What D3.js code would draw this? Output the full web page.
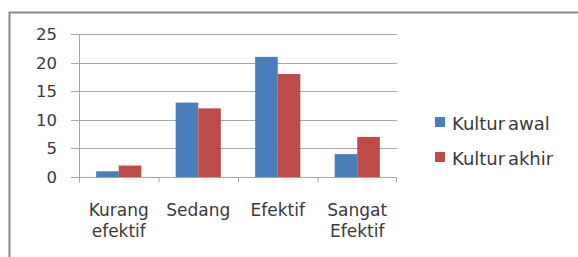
<!DOCTYPE html>
<html>
<head>
<meta charset="utf-8">
<script src="https://cdn.jsdelivr.net/npm/d3@7"></script>
<style>
  body { margin: 0; background: #fff; }
  svg text { font-family: "DejaVu Sans", sans-serif; fill: #3a3a3a; }
</style>
</head>
<body>
<div id="chart"></div>
<script>
var categories = [["Kurang", "efektif"], ["Sedang"], ["Efektif"], ["Sangat", "Efektif"]];
var seriesNames = ["Kultur awal", "Kultur akhir"];
var kulturAwal = [1, 13, 21, 4];
var kulturAkhir = [2, 12, 18, 7];
var yTicks = [0, 5, 10, 15, 20, 25];

(function () {
	'use strict';

	var colors = ["#4a7ebb", "#be4b48"];
	var width = 578, height = 257;
	var plot = { left: 79, right: 397, top: 34, bottom: 177 };

	var svg = d3.select("#chart").append("svg")
		.attr("width", width)
		.attr("height", height);

	// frame of the chart area
	svg.append("path")
		.attr("d", "M9.5," + height + "V12.5H" + width)
		.attr("fill", "none")
		.attr("stroke", "#8c8c8c")
		.attr("stroke-width", 2);

	var keys = categories.map(function (c) { return c.join(" "); });
	var data = keys.map(function (k, i) {
		return { cat: k, values: [kulturAwal[i], kulturAkhir[i]] };
	});

	var x0 = d3.scaleBand()
		.domain(keys)
		.range([plot.left, plot.right]);

	var x1 = d3.scaleBand()
		.domain([0, 1])
		.range([0, x0.bandwidth()])
		.paddingOuter(0.76);

	var y = d3.scaleLinear()
		.domain([0, 25])
		.range([plot.bottom, plot.top]);

	// gridlines
	svg.append("g")
		.selectAll("line")
		.data(yTicks)
		.enter()
		.append("line")
		.attr("x1", plot.left - 8)
		.attr("x2", plot.right)
		.attr("y1", function (d) { return Math.round(y(d)) + 0.5; })
		.attr("y2", function (d) { return Math.round(y(d)) + 0.5; })
		.attr("stroke", "#a6a6a6");

	// y axis line
	svg.append("line")
		.attr("x1", plot.left + 0.5).attr("x2", plot.left + 0.5)
		.attr("y1", plot.top).attr("y2", plot.bottom)
		.attr("stroke", "#a6a6a6");

	// y labels
	svg.append("g")
		.selectAll("text")
		.data(yTicks)
		.enter()
		.append("text")
		.attr("x", 57)
		.attr("y", function (d) { return y(d); })
		.attr("dy", "0.36em")
		.attr("text-anchor", "end")
		.attr("font-size", "16.5px")
		.text(function (d) { return d; });

	// bars
	var groups = svg.selectAll("g.barGroup")
		.data(data)
		.enter()
		.append("g")
		.attr("class", "barGroup")
		.attr("transform", function (d) { return "translate(" + x0(d.cat) + ",0)"; });

	groups.selectAll("rect")
		.data(function (d) { return d.values.map(function (v, i) { return { i: i, v: v }; }); })
		.enter()
		.append("rect")
		.attr("x", function (d) { return x1(d.i); })
		.attr("y", function (d) { return y(d.v); })
		.attr("width", x1.bandwidth())
		.attr("height", function (d) { return y(0) - y(d.v); })
		.attr("fill", function (d) { return colors[d.i]; });

	// bottom axis
	var xAxis = svg.append("g")
		.attr("transform", "translate(0," + (plot.bottom + 0.5) + ")");
	xAxis.append("line")
		.attr("x1", plot.left).attr("x2", plot.right)
		.attr("stroke", "#a6a6a6");
	xAxis.selectAll("line.tick")
		.data(keys.concat(["end"]))
		.enter()
		.append("line")
		.attr("class", "tick")
		.attr("x1", function (d) { return d === "end" ? plot.right - 0.5 : x0(d) + 0.5; })
		.attr("x2", function (d) { return d === "end" ? plot.right - 0.5 : x0(d) + 0.5; })
		.attr("y1", 0).attr("y2", 5)
		.attr("stroke", "#a6a6a6");

	var labels = svg.append("g")
		.selectAll("text")
		.data(categories)
		.enter()
		.append("text")
		.attr("x", function (d, i) { return x0(keys[i]) + x0.bandwidth() / 2; })
		.attr("y", 216)
		.attr("text-anchor", "middle")
		.attr("font-size", "17px");
	labels.selectAll("tspan")
		.data(function (d) { return d; })
		.enter()
		.append("tspan")
		.attr("x", function () { return d3.select(this.parentNode).attr("x"); })
		.attr("dy", function (d, i) { return i === 0 ? 0 : 21; })
		.text(function (d) { return d; });

	// legend
	var legend = svg.append("g")
		.attr("transform", "translate(435,117)");
	var item = legend.selectAll("g")
		.data(seriesNames)
		.enter()
		.append("g")
		.attr("transform", function (d, i) { return "translate(0," + (i * 35) + ")"; });
	item.append("rect")
		.attr("width", 10)
		.attr("height", 10)
		.attr("fill", function (d, i) { return colors[i]; });
	item.append("text")
		.attr("x", 17)
		.attr("y", 13)
		.attr("font-size", "18px")
		.attr("word-spacing", "-3px")
		.text(function (d) { return d; });
})();
</script>
</body>
</html>
